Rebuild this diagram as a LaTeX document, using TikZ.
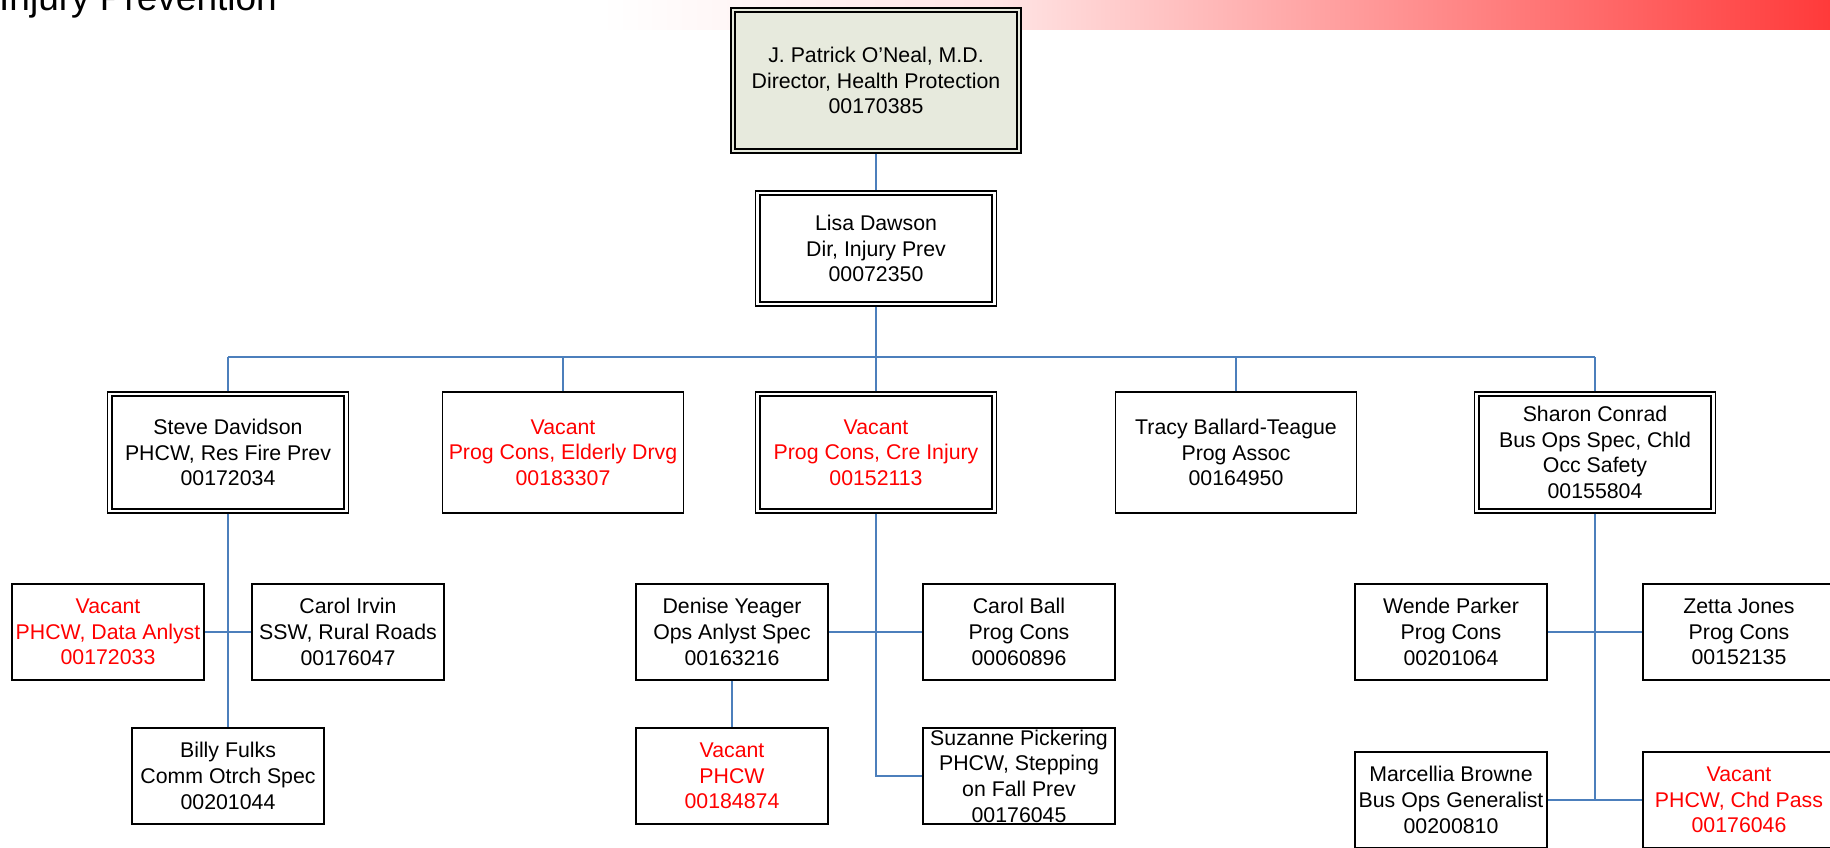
\documentclass[tikz,border=0pt]{standalone}
\usepackage{fontspec}
\setmainfont{Liberation Sans}
\definecolor{conn}{RGB}{76,127,188}
\definecolor{topfill}{RGB}{231,234,221}
\definecolor{barred}{RGB}{255,58,58}
\definecolor{barpink}{RGB}{255,228,228}
\definecolor{vac}{RGB}{255,0,0}
\newcommand\innerframe[1]{\draw[line width=2pt,black] ([xshift=5pt,yshift=-5pt]#1.north west) rectangle ([xshift=-5pt,yshift=5pt]#1.south east);}
\begin{document}
\begin{tikzpicture}[x=1pt,y=-1pt,
  every node/.style={font=\fontsize{21.3}{25.7}\selectfont, align=center, inner sep=0pt},
  box/.style={draw=black, line width=1.5pt, fill=white, minimum width=192pt, minimum height=96pt},
  bigbox/.style={box, minimum width=241pt, minimum height=121pt},
  dblbox/.style={line width=1.3pt},
  vacant/.style={text=vac},
  conn/.style={draw=conn, line width=1.4pt}]
\useasboundingbox (0,0) rectangle (1830,847);
% header bar and title
\shade[left color=white, right color=barpink] (600,0) rectangle (1001,29);
\shade[left color=barpink, right color=barred] (1000,0) rectangle (1830,29);
\node[anchor=base west, font=\fontsize{37}{44}\selectfont] (title) at (-1,10) {Injury Prevention};
% top levels
\node[box, dblbox, fill=topfill, minimum width=290pt, minimum height=145pt] (top) at (876,80.5)
  {J. Patrick O’Neal, M.D.\\Director, Health Protection\\00170385};
\innerframe{top}
\node[box, dblbox, minimum width=241pt, minimum height=115pt] (lisa) at (876,248.5)
  {Lisa Dawson\\Dir, Injury Prev\\00072350};
\innerframe{lisa}
% level 2
\node[bigbox, dblbox] (steve) at (228,452.5) {Steve Davidson\\PHCW, Res Fire Prev\\00172034};
\innerframe{steve}
\node[bigbox, vacant] (elderly) at (563,452.5) {Vacant\\Prog Cons, Elderly Drvg\\00183307};
\node[bigbox, dblbox, vacant] (cre) at (876,452.5) {Vacant\\Prog Cons, Cre Injury\\00152113};
\innerframe{cre}
\node[bigbox] (tracy) at (1236,452.5) {Tracy Ballard-Teague\\Prog Assoc\\00164950};
\node[bigbox, dblbox] (sharon) at (1595,452.5) {Sharon Conrad\\Bus Ops Spec, Chld\\Occ Safety\\00155804};
\innerframe{sharon}
% level 3
\node[box, vacant] (dataan) at (108,632) {Vacant\\PHCW, Data Anlyst\\00172033};
\node[box] (irvin) at (348,632) {Carol Irvin\\SSW, Rural Roads\\00176047};
\node[box] (billy) at (228,776) {Billy Fulks\\Comm Otrch Spec\\00201044};
\node[box] (denise) at (732,632) {Denise Yeager\\Ops Anlyst Spec\\00163216};
\node[box] (ball) at (1019,632) {Carol Ball\\Prog Cons\\00060896};
\node[box, vacant] (vphcw) at (732,776) {Vacant\\PHCW\\00184874};
\node[box] (suzanne) at (1019,776) {Suzanne Pickering\\PHCW, Stepping\\on Fall Prev\\00176045};
\node[box] (wende) at (1451,632) {Wende Parker\\Prog Cons\\00201064};
\node[box] (zetta) at (1739,632) {Zetta Jones\\Prog Cons\\00152135};
\node[box] (marcellia) at (1451,800) {Marcellia Browne\\Bus Ops Generalist\\00200810};
\node[box, vacant] (chd) at (1739,800) {Vacant\\PHCW, Chd Pass\\00176046};
% connectors
\coordinate (busL) at (228,357);
\coordinate (busR) at (1595,357);
\draw[conn] (top.south) -- (lisa.north);
\draw[conn] (lisa.south) -- (lisa.south |- busL);
\draw[conn] (busL) -- (busR);
\foreach \n in {steve,elderly,cre,tracy,sharon}
  \draw[conn] (\n.north) -- (\n.north |- busL);
\draw[conn] (steve.south) -- (billy.north);
\draw[conn] (dataan.east) -- (irvin.west);
\draw[conn] (cre.south) |- (suzanne.west);
\draw[conn] (denise.east) -- (ball.west);
\draw[conn] (denise.south) -- (vphcw.north);
\draw[conn] (sharon.south) -- (sharon.south |- marcellia.east);
\draw[conn] (wende.east) -- (zetta.west);
\draw[conn] (marcellia.east) -- (chd.west);
\end{tikzpicture}
\end{document}
